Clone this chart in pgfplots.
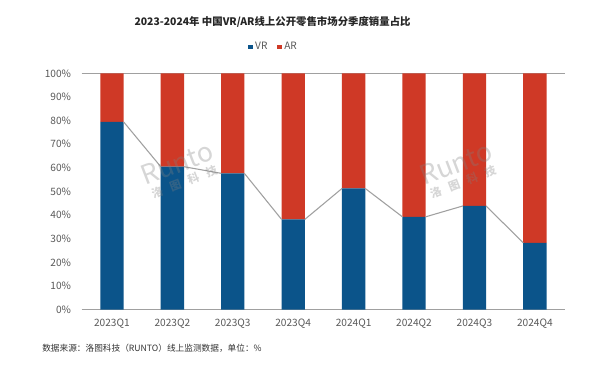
\documentclass[border=0pt]{standalone}
\usepackage{pgfplots}
\pgfplotsset{compat=1.18}
\usepackage{fontspec}
\setmainfont{Noto Sans CJK SC}
\definecolor{vr}{RGB}{11,84,138}
\definecolor{ar}{RGB}{207,57,38}
\definecolor{tick}{RGB}{89,89,89}
\definecolor{sline}{RGB}{160,160,160}
\begin{document}
\begin{tikzpicture}[x=1pt,y=1pt]
\path[use as bounding box, fill=white] (0pt,0pt) rectangle (450pt,276pt);
\pgfplotsset{base/.style={
  scale only axis, width=362.5pt, height=177.3pt,
  at={(61.3pt,43.7pt)}, anchor=south west,
  xmin=-0.5, xmax=7.5, ymin=0, ymax=100,
  axis line style={draw=none},
  major tick length=0pt,
}}
\begin{axis}[base,
  ybar stacked, bar width=17.5pt,
  xtick={0,...,7},
  xticklabels={2023Q1,2023Q2,2023Q3,2023Q4,2024Q1,2024Q2,2024Q3,2024Q4},
  ytick={0,10,...,100},
  yticklabel={\pgfmathprintnumber{\tick}\%},
  /pgf/number format/assume math mode=true,
  tick label style={font=\fontsize{7.6}{9}\selectfont, text=tick},
  yticklabel style={xshift=-4.5pt},
  xticklabel style={yshift=-3.5pt},
  extra y ticks={0,100}, extra y tick labels={},
  extra y tick style={grid=major, grid style={sline, line width=0.6pt}},
  legend style={at={(axis description cs:0.397,1.111)}, anchor=center, draw=none,
    legend columns=-1, font=\fontsize{7.6}{9}\selectfont, text=tick,
    /tikz/every even column/.append style={column sep=5pt}},
  legend image code/.code={\fill[#1,draw=none] (0pt,-1.8pt) rectangle (3.6pt,1.8pt);},
]
\addplot[fill=vr, draw=none] coordinates {(0,79.5) (1,60.5) (2,57.7) (3,38.2) (4,51.3) (5,39.3) (6,43.9) (7,28.3)};
\addplot[fill=ar, draw=none] coordinates {(0,20.5) (1,39.5) (2,42.3) (3,61.8) (4,48.7) (5,60.7) (6,56.1) (7,71.7)};
\legend{VR,AR}
\end{axis}
\begin{axis}[base, hide axis, unbounded coords=jump]
\addplot[sline, line width=0.8pt, mark=none] coordinates {
(0.192,79.5) (0.808,60.5) (1,nan)
(1.192,60.5) (1.808,57.7) (2,nan)
(2.192,57.7) (2.808,38.2) (3,nan)
(3.192,38.2) (3.808,51.3) (4,nan)
(4.192,51.3) (4.808,39.3) (5,nan)
(5.192,39.3) (5.808,43.9) (6,nan)
(6.192,43.9) (6.808,28.3)};
\end{axis}
% watermarks
\tikzset{wm/.style={rotate=21, text=gray, opacity=0.32, inner sep=0pt, align=center}}
\newcommand{\wmtext}{{\fontsize{20}{18}\selectfont Runto}\\[-1pt]{\fontsize{8.5}{9}\selectfont\bfseries 洛\hspace{6pt}图\hspace{6pt}科\hspace{6pt}技}}
\node[wm] at (135pt,148pt) {\wmtext};
\node[wm] at (344pt,148pt) {\wmtext};
\node[font=\fontsize{7.8}{9}\selectfont\bfseries, text=black!85] at (204.4pt,259.5pt) {2023-2024年 中国VR/AR线上公开零售市场分季度销量占比};
\node[anchor=west, font=\fontsize{6.5}{8}\selectfont, text=black!80, inner sep=0pt] at (31.5pt,15pt) {数据来源：洛图科技（RUNTO）线上监测数据，单位：\%};
\end{tikzpicture}
\end{document}
